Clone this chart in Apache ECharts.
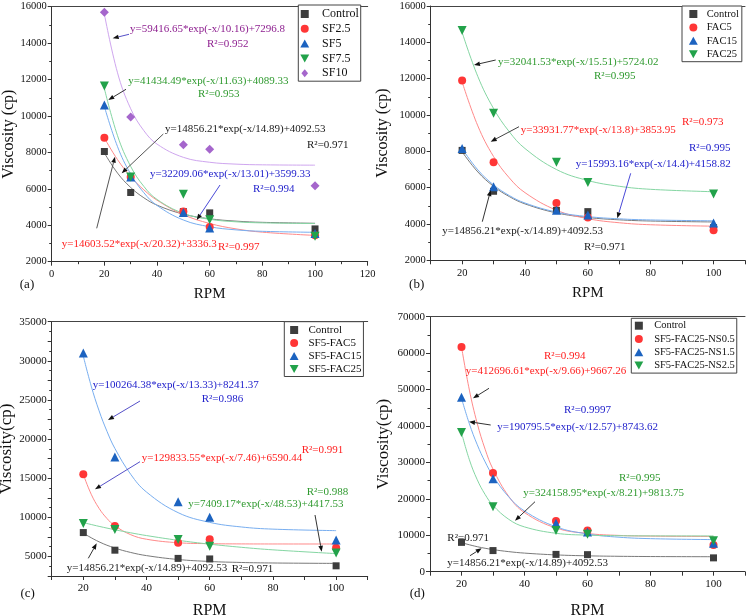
<!DOCTYPE html>
<html><head><meta charset="utf-8">
<script src="https://cdn.jsdelivr.net/npm/echarts@6/dist/echarts.min.js"></script>
<style>html,body{margin:0;padding:0;background:#fff}#c{width:748px;height:616px}</style>
</head><body><div id="c"></div>
<script>
// ---------- measured data (RPM vs viscosity, cp) ----------
const RPM = [20, 30, 50, 60, 100];
const control  = [8050, 5800, 4750, 4680, 3800];
const sf25     = [8800, 6650, 4750, 3900, 3450];
const sf5      = [10600, 6650, 4700, 3850, 3550];
const sf75     = [11650, 6650, 5700, 4300, 3400];
const sf10     = [15700, 9950, 8420, 8170, 6170];
const fac5     = [11900, 7400, 5150, 4350, 3650];
const fac15    = [8150, 6050, 4750, 4500, 4050];
const fac25    = [14650, 10100, 7400, 6280, 5650];
const sf5fac5  = [15500, 8900, 6750, 7200, 6100];
const sf5fac15 = [31000, 17700, 12000, 10000, 7100];
const sf5fac25 = [9200, 8450, 7150, 6300, 5450];
const ns05     = [61700, 27100, 13900, 11300, 7300];
const ns15     = [47900, 25500, 13300, 10900, 7800];
const ns25     = [38200, 17800, 11300, 10300, 8500];

// ---------- fitted curves, values ----------
const FIT_X      = [20, 25, 30, 35, 40, 50, 60, 70, 80, 100];
const FIT_X_FINE = [20, 22.5, 25, 27.5, 30, 35, 40, 50, 60, 70, 80, 100];
const fitControl  = [7970, 6864, 6074, 5509, 5105, 4610, 4357, 4228, 4162, 4110];
const fitSF25     = [8793, 7603, 6673, 5945, 5376, 4583, 4098, 3802, 3621, 3443];
const fitSF5      = [10523, 8314, 6810, 5786, 5088, 4289, 3919, 3748, 3668, 3614];
const fitSF75     = [11511, 8918, 7230, 6133, 5419, 4652, 4327, 4190, 4132, 4097];
const fitSF10     = [15596, 12370, 10398, 9193, 8456, 7730, 7459, 7357, 7319, 7300];
const fitFAC5     = [11819, 9398, 7713, 6540, 5724, 4760, 4293, 4067, 3957, 3878];
const fitFAC15    = [8147, 6977, 6151, 5566, 5153, 4655, 4407, 4283, 4221, 4174];
const fitFAC25    = [14548, 12117, 10356, 9079, 8154, 6999, 6393, 6075, 5908, 5775];
const fitSF5FAC25 = [9324, 8844, 8411, 8020, 7667, 7062, 6569, 6169, 5843, 5361];
const fitSF5FAC5  = [15484, 12951, 11140, 9845, 8918, 7781, 7199, 6750, 6632, 6601, 6593, 6590];
const fitSF5FAC15 = [30604, 26780, 23610, 20983, 18802, 15500, 13229, 10597, 9354, 8767, 8490, 8297];
const fitNS05     = [61725, 49853, 40690, 33615, 28155, 20685, 16233, 11999, 10495, 9961, 9772, 9680];
const fitNS15     = [47611, 40599, 34854, 30145, 26286, 20528, 16660, 12317, 10356, 9471, 9072, 8811];
const fitNS25     = [38179, 30734, 25241, 21191, 18205, 14378, 12296, 10548, 10031, 9878, 9833, 9815];

// ---------- annotation texts ----------
const EQ = {
  control: 'y=14856.21*exp(-x/14.89)+4092.53', rControl: 'R²=0.971',
  sf25: 'y=14603.52*exp(-x/20.32)+3336.3', rSf25: 'R²=0.997',
  sf5: 'y=32209.06*exp(-x/13.01)+3599.33', rSf5: 'R²=0.994',
  sf75: 'y=41434.49*exp(-x/11.63)+4089.33', rSf75: 'R²=0.953',
  sf10: 'y=59416.65*exp(-x/10.16)+7296.8', rSf10: 'R²=0.952',
  fac5: 'y=33931.77*exp(-x/13.8)+3853.95', rFac5: 'R²=0.973',
  fac15: 'y=15993.16*exp(-x/14.4)+4158.82', rFac15: 'R²=0.995',
  fac25: 'y=32041.53*exp(-x/15.51)+5724.02', rFac25: 'R²=0.995',
  sf5fac5: 'y=129833.55*exp(-x/7.46)+6590.44', rSf5fac5: 'R²=0.991',
  sf5fac15: 'y=100264.38*exp(-x/13.33)+8241.37', rSf5fac15: 'R²=0.986',
  sf5fac25: 'y=7409.17*exp(-x/48.53)+4417.53', rSf5fac25: 'R²=0.988',
  ns05: 'y=412696.61*exp(-x/9.66)+9667.26', rNs05: 'R²=0.994',
  ns15: 'y=190795.5*exp(-x/12.57)+8743.62', rNs15: 'R²=0.9997',
  ns25: 'y=324158.95*exp(-x/8.21)+9813.75', rNs25: 'R²=0.995'
};

// ---------- styles ----------
const SERIF = '"Liberation Serif","Times New Roman",serif';
const C = {ctrl:'#3d3d3d', red:'#ff3636', blue:'#1c63c0', green:'#22a24a', purple:'#a566cc'};
const LC = {ctrl:'#7a7a7a', red:'#ff8a8a', blue:'#78aef0', green:'#85d6a3', purple:'#cfa6ef'};
const TC = {black:'#1a1a1a', red:'#ff2020', blue:'#2222cc', green:'#2f9a2f', purple:'#8e2090'};
const SYM = {
  rect:{symbol:'rect', size:7, icon:'path://M0,0L10,0L10,10L0,10Z'},
  circle:{symbol:'circle', size:8, icon:'path://M5,0A5,5,0,1,1,5,10A5,5,0,1,1,5,0Z'},
  up:{symbol:'triangle', size:9, icon:'path://M5,0L10,9L0,9Z'},
  down:{symbol:'triangle', size:9, rotate:180, icon:'path://M0,0L10,0L5,9Z'},
  diamond:{symbol:'diamond', size:9, icon:'path://M5,0L10,6L5,12L0,6Z'}
};
const pairs = (xs, ys) => xs.map((x, i) => [x, ys[i]]);

const panels = [
  { grid:{left:51.7, top:6.7, width:316, height:255},
    x:{min:0, max:120, interval:20, minor:true}, y:{min:2000, max:16000, interval:2000, step:2000},
    yName:'Viscosity (cp)', yGap:34, xGap:25, fs:10.5, nameFs:16, xNameFs:15,
    series:[['Control',control,'rect','ctrl',fitControl,FIT_X],['SF2.5',sf25,'circle','red',fitSF25,FIT_X],
            ['SF5',sf5,'up','blue',fitSF5,FIT_X],['SF7.5',sf75,'down','green',fitSF75,FIT_X],
            ['SF10',sf10,'diamond','purple',fitSF10,FIT_X]],
    legend:{left:298.3, top:5, pad:[3,2,2,2], gap:2.8, w:24.6, fs:12} },
  { grid:{left:430.7, top:6, width:314.3, height:254.3},
    x:{min:10, max:110, interval:10, step:20}, y:{min:2000, max:16000, interval:2000, step:2000},
    yName:'Viscosity (cp)', yGap:40, xGap:25, fs:10.5, nameFs:16, xNameFs:15,
    series:[['Control',control,'rect','ctrl',fitControl,FIT_X],['FAC5',fac5,'circle','red',fitFAC5,FIT_X],
            ['FAC15',fac15,'up','blue',fitFAC15,FIT_X],['FAC25',fac25,'down','green',fitFAC25,FIT_X]],
    legend:{left:682, top:6, pad:[2.5,3,2,6.9], gap:2.4, w:16.8, fs:10.5} },
  { grid:{left:51.7, top:321.7, width:316, height:254.3},
    x:{min:10, max:110, interval:10, step:20}, y:{min:2500, max:35000, interval:2500, step:5000},
    yName:'Viscosity(cp)', yGap:34, xGap:27, fs:11, nameFs:17, xNameFs:16,
    series:[['Control',control,'rect','ctrl',fitControl,FIT_X],['SF5-FAC5',sf5fac5,'circle','red',fitSF5FAC5,FIT_X_FINE],
            ['SF5-FAC15',sf5fac15,'up','blue',fitSF5FAC15,FIT_X_FINE],['SF5-FAC25',sf5fac25,'down','green',fitSF5FAC25,FIT_X]],
    legend:{left:284.3, top:321.7, pad:[2.8,2,2,5.4], gap:2, w:18.6, fs:11} },
  { grid:{left:430, top:316.7, width:315, height:255},
    x:{min:10, max:110, interval:10, step:20}, y:{min:0, max:70000, interval:10000, step:10000},
    yName:'Viscosity(cp)', yGap:38, xGap:31, fs:11, nameFs:17, xNameFs:16,
    series:[['Control',control,'rect','ctrl',fitControl,FIT_X],['SF5-FAC25-NS0.5',ns05,'circle','red',fitNS05,FIT_X_FINE],
            ['SF5-FAC25-NS1.5',ns15,'up','blue',fitNS15,FIT_X_FINE],['SF5-FAC25-NS2.5',ns25,'down','green',fitNS25,FIT_X_FINE]],
    legend:{left:631.3, top:318.3, pad:[1.9,2,2,3.1], gap:2.3, w:20.6, fs:10.5} }
];

// annotation layout: [text, color, left x, center y]
const TEXTS = [
  [EQ.sf10,'purple',130,29],[EQ.rSf10,'purple',207,44],
  [EQ.sf75,'green',128.3,80.7],[EQ.rSf75,'green',198,94],
  [EQ.control,'black',165,129.3],[EQ.rControl,'black',307,145],
  [EQ.sf5,'blue',150,174.3],[EQ.rSf5,'blue',253,189],
  [EQ.sf25,'red',61.7,244.3],[EQ.rSf25,'red',218,247.3],
  [EQ.fac25,'green',498,61.7],[EQ.rFac25,'green',594,76],
  [EQ.fac5,'red',520.7,130],[EQ.rFac5,'red',682,122.3],
  [EQ.rFac15,'blue',689,147.7],[EQ.fac15,'blue',575.7,164.3],
  [EQ.control,'black',442.3,231],[EQ.rControl,'black',584,246.7],
  [EQ.sf5fac15,'blue',92.7,385],[EQ.rSf5fac15,'blue',201.7,399.3],
  [EQ.sf5fac5,'red',141.7,458.3],[EQ.rSf5fac5,'red',301.7,450],
  [EQ.rSf5fac25,'green',306.7,491.7],[EQ.sf5fac25,'green',188.3,504],
  [EQ.control,'black',66.7,568.3],[EQ.rControl,'black',231.7,569.3],
  [EQ.rNs05,'red',544,356],[EQ.ns05,'red',465.7,370.7],
  [EQ.rNs15,'blue',564,410],[EQ.ns15,'blue',497.3,427.3],
  [EQ.rNs25,'green',619,478.3],[EQ.ns25,'green',523.3,493.3],
  [EQ.rControl,'black',447.3,538.3],[EQ.control,'black',447.3,563.3]
];
// arrows: [x1,y1,x2,y2,lineColor]
const ARROWS = [
  [129,34.3,112.7,38.3,'#5550c8'],[126,89.3,108.3,100,'#333'],[163.3,134,121.7,173.3,'#555'],
  [220,185,196.7,220,'#4a4ad8'],[96.7,228.3,115,156.7,'#555'],
  [495.7,60,474,65,'#333'],[519,126.7,490.7,141.7,'#444'],[630.7,173.3,617.3,218.3,'#4a4ad8'],[482.3,221.7,490.7,190,'#333'],
  [140,401,108,420,'#5550c8'],[140,461.7,95,489.3,'#5550c8'],[315,515,321.7,551.7,'#333'],[88.3,558.3,96.7,543.3,'#333'],
  [489,388.3,473,398.3,'#333'],[490.7,425,469,421.7,'#333'],[535,501.7,515,520.7,'#333'],[470,555.7,481.7,548.3,'#333']
];
const LABELS = [['(a)',27,285],['(b)',416.7,285],['(c)',27.7,593.3],['(d)',417.3,593.3]];

// ---------- build option ----------
const grids = [], xAxes = [], yAxes = [], series = [], legends = [], graphics = [];
panels.forEach((p, g) => {
  grids.push(Object.assign({containLabel:false, outerBoundsMode:'none'}, p.grid));
  const lab = {fontFamily:SERIF, fontSize:p.fs, color:'#111'};
  xAxes.push({
    gridIndex:g, type:'value', position:'bottom', min:p.x.min, max:p.x.max, interval:p.x.interval,
    name:'RPM', nameLocation:'middle', nameGap:p.xGap, nameTextStyle:{fontFamily:SERIF, fontSize:p.xNameFs, color:'#111'},
    axisLine:{onZero:false, lineStyle:{color:'#333', width:1}},
    axisTick:{length:4, lineStyle:{color:'#333'}},
    minorTick:{show:!!p.x.minor, splitNumber:2, length:2.5, lineStyle:{color:'#333'}},
    splitLine:{show:false},
    axisLabel:Object.assign({margin:7, formatter:(v)=> (p.x.step && v % p.x.step !== 0) ? '' : String(v)}, lab)
  });
  xAxes.push({
    gridIndex:g, type:'value', position:'top', min:p.x.min, max:p.x.max,
    axisLine:{show:true, onZero:false, lineStyle:{color:'#444', width:1}},
    axisTick:{show:false}, axisLabel:{show:false}, splitLine:{show:false}
  });
  yAxes.push({
    gridIndex:g, type:'value', min:p.y.min, max:p.y.max, interval:p.y.interval,
    name:p.yName, nameLocation:'middle', nameGap:p.yGap, nameTextStyle:{fontFamily:SERIF, fontSize:p.nameFs, color:'#111'},
    axisLine:{show:true, onZero:false, lineStyle:{color:'#333', width:1}},
    axisTick:{length:4, lineStyle:{color:'#333'}},
    minorTick:{show:true, splitNumber:2, length:2.5, lineStyle:{color:'#333'}},
    splitLine:{show:false},
    axisLabel:Object.assign({margin:5, formatter:(v)=> (v % p.y.step !== 0) ? '' : String(v)}, lab)
  });
  p.series.forEach(([name, vals, sym, col, fit, fx]) => {
    series.push({
      type:'line', name:'fit-'+name+'-'+g, xAxisIndex:2*g, yAxisIndex:g, data:pairs(fx, fit),
      smooth:0.4, symbol:'none', showSymbol:false, silent:true, z:2,
      lineStyle:{color:LC[col], width:1}
    });
  });
  p.series.forEach(([name, vals, sym, col]) => {
    const s = SYM[sym];
    series.push({
      type:'scatter', name, xAxisIndex:2*g, yAxisIndex:g, data:pairs(RPM, vals),
      symbol:s.symbol, symbolSize:s.size, symbolRotate:s.rotate || 0, z:3,
      itemStyle:{color:C[col], opacity:1}
    });
  });
  const L = p.legend;
  legends.push({
    orient:'vertical', left:L.left, top:L.top, padding:L.pad, itemGap:L.gap,
    itemWidth:L.w, itemHeight:8, symbolKeepAspect:true, selectedMode:false,
    borderColor:'#444', borderWidth:1, backgroundColor:'#fff',
    textStyle:{fontFamily:SERIF, fontSize:L.fs, lineHeight:L.fs, color:'#111'},
    data:p.series.map(([name, , sym, col]) => ({name, icon:SYM[sym].icon, itemStyle:{color:C[col]}}))
  });
});

TEXTS.forEach(([t, col, x, y]) => graphics.push({
  type:'text', x, y, z:10,
  style:{text:t, fill:TC[col], font:'11px ' + SERIF, align:'left', verticalAlign:'middle'}
}));
ARROWS.forEach(([x1, y1, x2, y2, col]) => {
  const a = Math.atan2(y2 - y1, x2 - x1), Lh = 6, W = 2.3;
  const bx = x2 - Lh * Math.cos(a), by = y2 - Lh * Math.sin(a);
  const px = -Math.sin(a) * W, py = Math.cos(a) * W;
  graphics.push({type:'line', z:10, shape:{x1, y1, x2:bx, y2:by}, style:{stroke:col, lineWidth:1}});
  graphics.push({type:'polygon', z:10, shape:{points:[[x2, y2], [bx + px, by + py], [bx - px, by - py]]}, style:{fill:'#111'}});
});
LABELS.forEach(([t, x, y]) => graphics.push({
  type:'text', x, y, z:10, style:{text:t, fill:'#111', font:'13px ' + SERIF, align:'center', verticalAlign:'middle'}
}));

const chart = echarts.init(document.getElementById('c'), null, {renderer:'canvas'});
chart.setOption({
  animation:false, backgroundColor:'#fff',
  grid:grids, xAxis:xAxes, yAxis:yAxes, legend:legends, series, graphic:graphics
});
</script>
</body></html>
